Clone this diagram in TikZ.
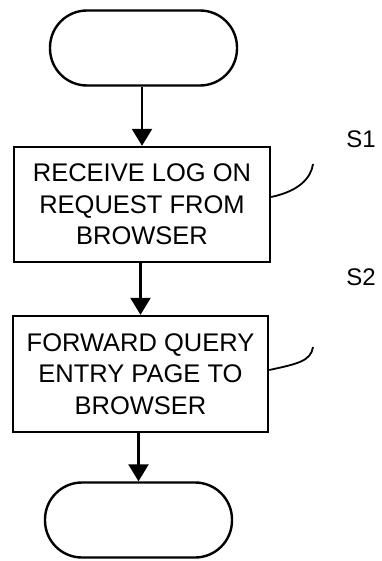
\documentclass[tikz,border=0pt]{standalone}
\usepackage{fontspec}
\setmainfont{Liberation Sans}
\usetikzlibrary{arrows.meta}
\begin{document}
\begin{tikzpicture}[x=1pt,y=-1pt,
  lw/.style={line width=2.4pt},
  term/.style={lw, draw, rectangle, rounded corners=37pt, minimum width=187pt, minimum height=75pt, inner sep=0pt},
  stepbox/.style={lw, draw, rectangle, align=center, inner sep=0pt, font=\fontsize{25.5pt}{31.5pt}\selectfont},
  arr/.style={lw, -{Triangle[width=20pt,length=17pt]}},
  lead/.style={line width=1.8pt},
  lbl/.style={font=\fontsize{24pt}{28pt}\selectfont}
]
\useasboundingbox (0,0) rectangle (382,561);
\node[term] (t1) at (143.5,48) {};
\node[stepbox, minimum width=256pt, minimum height=115pt] (b1) at (142,204.5) {RECEIVE LOG ON\\REQUEST FROM\\BROWSER};
\node[stepbox, minimum width=255pt, minimum height=116pt] (b2) at (140.5,374) {FORWARD QUERY\\ENTRY PAGE TO\\BROWSER};
\node[term] (t2) at (138.5,520) {};
\draw[arr] (b1.north |- t1.south) -- (b1.north);
\draw[arr] (b2.north |- b1.south) -- (b2.north);
\draw[arr] (t2.north |- b2.south) -- (t2.north);
\node[lbl] (s1) at (361,139) {S1};
\node[lbl] (s2) at (361,277) {S2};
\coordinate (c1) at (313,164);
\coordinate (c2) at (313,347);
\draw[lead] ([yshift=7.5pt]b1.east) .. controls +(28,-6) and +(-2,14) .. (c1);
\draw[lead] ([yshift=4pt]b2.east) .. controls +(28,-6) and +(-2,14) .. (c2);
\end{tikzpicture}
\end{document}
